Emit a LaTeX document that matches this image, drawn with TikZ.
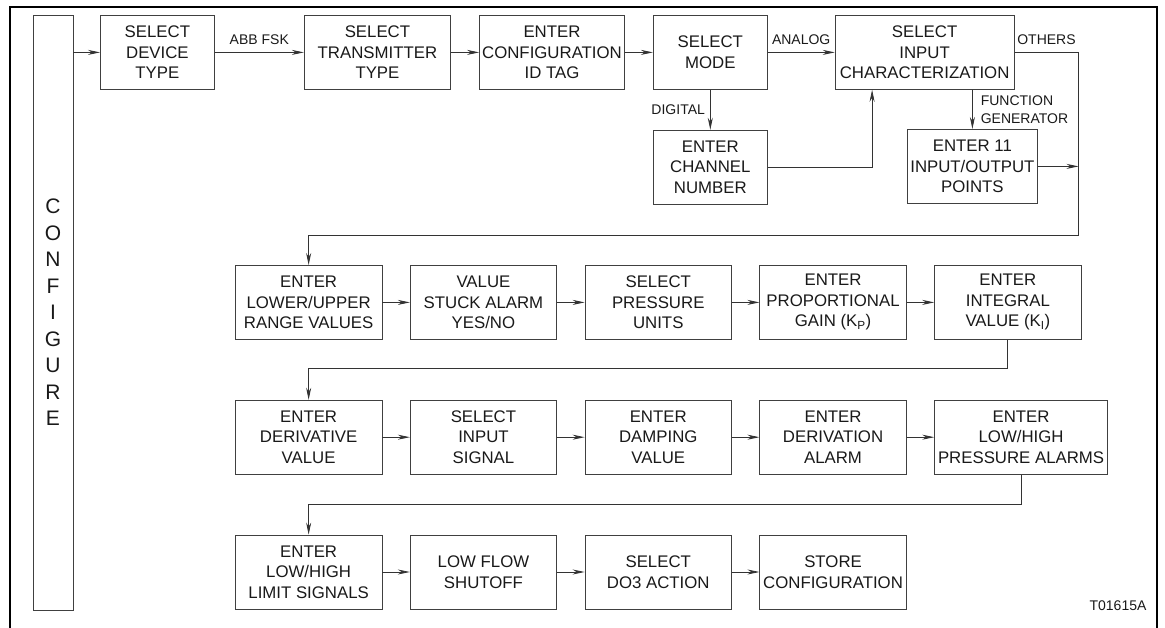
\documentclass[tikz,border=0pt]{standalone}
\usepackage{fontspec}
\setmainfont{Liberation Sans}
\usepackage{tikz}
\usetikzlibrary{arrows.meta,positioning}
\tikzset{
    flowBox/.style={
        draw=black!75,
        line width=0.8pt,
        align=center,
        inner sep=0pt,
        minimum height=74pt,
        minimum width=146.5pt,
        text=black!90,
        font=\fontsize{16.8}{20.5}\selectfont
    },
    flowArrow/.style={
        -{Stealth[length=12pt,width=5pt]},
        line width=0.8pt,
        draw=black!80
    },
    flowLabel/.style={
        inner sep=1pt,
        text=black!90,
        font=\fontsize{14}{18}\selectfont
    }
}

\begin{document}
\begin{tikzpicture}[x=1pt,y=-1pt,node distance=27.5pt]
    \useasboundingbox (0,0) rectangle (1165,628);
    \draw[line width=1.2pt] (10,628) -- (10,7) -- (1157,7) -- (1157,628);

    \node[flowBox,minimum width=40pt,minimum height=595pt,font=\fontsize{21}{26.5}\selectfont] (configure) at (53,312.5) {C\\O\\N\\F\\I\\G\\U\\R\\E};

    % first row
    \node[flowBox,minimum width=114pt,anchor=north west] (device) at (100,15) {SELECT\\DEVICE\\TYPE};
    \node[flowBox,right=89pt of device] (transmitter) {SELECT\\TRANSMITTER\\TYPE};
    \node[flowBox,minimum width=145pt,right=28pt of transmitter] (idtag) {ENTER\\CONFIGURATION\\ID TAG};
    \node[flowBox,minimum width=114pt,right=28pt of idtag] (mode) {SELECT\\MODE};
    \node[flowBox,minimum width=114pt,below=40pt of mode] (channel) {ENTER\\CHANNEL\\NUMBER};
    \node[flowBox,minimum width=179pt,right=67pt of mode] (inputchar) {SELECT\\INPUT\\CHARACTERIZATION};
    \node[flowBox,minimum width=130pt,anchor=north west] (points) at (907,129) {ENTER 11\\INPUT/OUTPUT\\POINTS};
    \coordinate[right=64pt of inputchar.east] (othersTurn);
    \coordinate (othersDown) at (othersTurn |- 0,235);

    % second row
    \node[flowBox,anchor=north west] (range) at (235,265) {ENTER\\LOWER/UPPER\\RANGE VALUES};
    \node[flowBox,right=of range] (stuck) {VALUE\\STUCK ALARM\\YES/NO};
    \node[flowBox,right=of stuck] (units) {SELECT\\PRESSURE\\UNITS};
    \node[flowBox,right=of units] (gain) {ENTER\\PROPORTIONAL\\GAIN (K\textsubscript{P})};
    \node[flowBox,right=of gain] (integral) {ENTER\\INTEGRAL\\VALUE (K\textsubscript{I})};

    % third row
    \node[flowBox,below=60pt of range] (derivative) {ENTER\\DERIVATIVE\\VALUE};
    \node[flowBox,right=of derivative] (signal) {SELECT\\INPUT\\SIGNAL};
    \node[flowBox,right=of signal] (damping) {ENTER\\DAMPING\\VALUE};
    \node[flowBox,right=of damping] (deviation) {ENTER\\DERIVATION\\ALARM};
    \node[flowBox,minimum width=173pt,right=of deviation] (alarms) {ENTER\\LOW/HIGH\\PRESSURE ALARMS};

    % fourth row
    \node[flowBox,below=60pt of derivative] (limits) {ENTER\\LOW/HIGH\\LIMIT SIGNALS};
    \node[flowBox,right=of limits] (lowflow) {LOW FLOW\\SHUTOFF};
    \node[flowBox,right=of lowflow] (action) {SELECT\\DO3 ACTION};
    \node[flowBox,right=of action] (store) {STORE\\CONFIGURATION};

    \node[flowLabel] (tag) at (1118,606) {T01615A};

    \draw[flowArrow] (configure.east |- device.west) -- (device.west);
    \draw[flowArrow] (device) -- node[flowLabel,above=6pt] {ABB FSK} (transmitter);
    \draw[flowArrow] (transmitter) -- (idtag);
    \draw[flowArrow] (idtag) -- (mode);
    \draw[flowArrow] (mode) -- node[flowLabel,above=6pt] {ANALOG} (inputchar);
    \draw[flowArrow] (mode) -- node[flowLabel,left=4pt] {DIGITAL} (channel);
    \draw[flowArrow] (channel.east) -| ([xshift=-52.5pt]inputchar.south);
    \draw[flowArrow] (inputchar.south -| points.north) -- node[flowLabel,right=7pt,align=left] {FUNCTION\\GENERATOR} (points.north);
    \draw[flowArrow] (points.east) -- (points.east -| othersTurn);
    \draw[flowArrow] (inputchar.east) -- node[flowLabel,above=6pt] {OTHERS} (othersTurn) -- (othersDown) -| (range.north);

    \draw[flowArrow] (range) -- (stuck);
    \draw[flowArrow] (stuck) -- (units);
    \draw[flowArrow] (units) -- (gain);
    \draw[flowArrow] (gain) -- (integral);
    \draw[flowArrow] (integral.south) -- ++(0,29) -| (derivative.north);

    \draw[flowArrow] (derivative) -- (signal);
    \draw[flowArrow] (signal) -- (damping);
    \draw[flowArrow] (damping) -- (deviation);
    \draw[flowArrow] (deviation) -- (alarms);
    \draw[flowArrow] (alarms.south) -- ++(0,30) -| (limits.north);

    \draw[flowArrow] (limits) -- (lowflow);
    \draw[flowArrow] (lowflow) -- (action);
    \draw[flowArrow] (action) -- (store);
\end{tikzpicture}
\end{document}
